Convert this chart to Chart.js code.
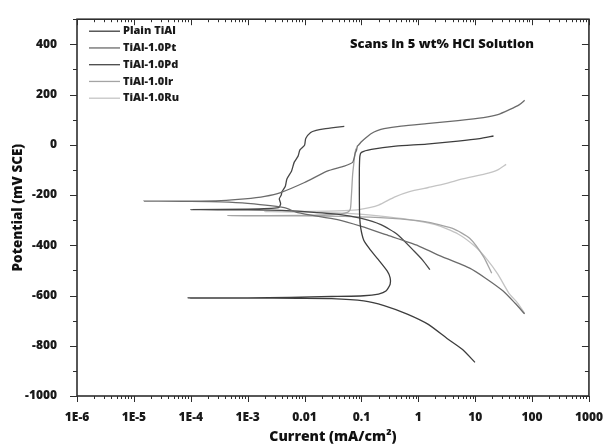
<!DOCTYPE html>
<html>
<head>
<meta charset="utf-8">
<script src="https://cdn.jsdelivr.net/npm/chart.js@4.4.0/dist/chart.umd.min.js"></script>
<style>
  html, body { margin: 0; padding: 0; background: #fff; }
</style>
</head>
<body>
<canvas id="chart1" width="609" height="448"></canvas>
<script>
var FONT = '"Open Sans", "DejaVu Sans", sans-serif';

var seriesNames = ['Plain TiAl', 'TiAl-1.0Pt', 'TiAl-1.0Pd', 'TiAl-1.0Ir', 'TiAl-1.0Ru'];
var seriesColors = ['#3d3d3d', '#6b6b6b', '#474747', '#a4a4a4', '#c4c4c4'];

var xTickLabels = ['1E-6', '1E-5', '1E-4', '1E-3', '0.01', '0.1', '1', '10', '100', '1000'];
var yTickValues = [-1000, -800, -600, -400, -200, 0, 200, 400];
var noteText = 'Scans in 5 wt% HCl Solution';

// current (mA/cm2) and potential (mV SCE), cathodic end -> Ecorr -> anodic end
var plainCurrent = [9.9, 6, 3.2, 1.5, 0.64, 0.25, 0.11, 0.03, 7.6e-3, 1e-3, 1e-4, 9e-5,
  1e-3, 5.5e-3, 0.03, 0.11, 0.2, 0.27, 0.32, 0.32, 0.285, 0.19, 0.14, 0.11, 0.097, 0.093,
  0.092, 0.092, 0.094, 0.1, 0.15, 0.4, 1.4, 5, 12, 21];
var plainPotential = [-866, -815, -771, -715, -674, -640, -621, -612, -611, -610, -610, -609,
  -609, -607, -604, -601, -594, -582, -555, -530, -503, -452, -415, -380, -330, -280,
  -200, -100, -45, -30, -18, -5, 3, 15, 25, 35];

var ptCurrent = [74, 50, 31, 15, 8, 2.1, 1.0, 0.27, 0.1, 0.038, 7.6e-3, 4.4e-3, 1e-3, 3.4e-4, 1e-4, 1.5e-5,
  1e-4, 3.4e-4, 8.9e-4, 2e-3, 3.8e-3, 0.01, 0.025, 0.05, 0.07, 0.075, 0.078, 0.082, 0.085, 0.09,
  0.1, 0.12, 0.15, 0.19, 0.25, 0.5, 1.4, 5, 14, 25, 40, 60, 74];
var ptPotential = [-673, -630, -582, -530, -491, -436, -402, -358, -325, -298, -270, -250, -233, -227, -225, -224,
  -224, -222, -215, -205, -190, -150, -105, -85, -70, -50, -32, -22, -5, 0,
  12, 28, 45, 56, 64, 74, 84, 96, 108, 120, 140, 160, 177];

var pdCurrent = [1.6, 1.2, 0.85, 0.43, 0.22, 0.1, 0.04, 0.01, 4e-3, 1e-3, 1e-4,
  1e-3, 3.5e-3, 3.8e-3, 3.6e-3, 3.9e-3, 4.0e-3, 4.6e-3, 4.9e-3, 5.9e-3, 6.6e-3, 7.7e-3, 8.3e-3,
  0.01, 0.0105, 0.0128, 0.016, 0.022, 0.035, 0.05];
var pdPotential = [-497, -460, -424, -357, -318, -293, -277, -266, -261, -259, -258,
  -256, -250, -235, -215, -200, -187, -165, -136, -105, -69, -45, -20,
  -2, 25, 49, 57, 63, 69, 73];

var irCurrent = [19.5, 14, 8, 4, 1.3, 0.3, 0.05, 0.01, 4.5e-4,
  0.01, 0.04, 0.058, 0.064, 0.066, 0.068, 0.07, 0.073, 0.076, 0.08];
var irPotential = [-511, -445, -372, -333, -306, -292, -285, -283, -282,
  -281, -276, -268, -255, -220, -170, -120, -80, -45, -15];

var ruCurrent = [74, 55, 39, 25, 16, 10, 5, 2, 0.7, 0.2, 0.05, 0.01, 2e-3,
  0.01, 0.05, 0.095, 0.2, 0.38, 0.7, 1.5, 3, 6, 15, 25, 35];
var ruPotential = [-670, -628, -590, -515, -455, -405, -355, -318, -298, -283, -272, -268, -266,
  -265, -262, -257, -240, -208, -186, -170, -155, -136, -116, -100, -78];

function toPoints(cur, pot) {
  return cur.map(function (c, i) { return {x: c, y: pot[i]}; });
}

var seriesData = [
  toPoints(plainCurrent, plainPotential),
  toPoints(ptCurrent, ptPotential),
  toPoints(pdCurrent, pdPotential),
  toPoints(irCurrent, irPotential),
  toPoints(ruCurrent, ruPotential)
];

var datasets = seriesNames.map(function (name, i) {
  return {
    label: name,
    data: seriesData[i],
    showLine: true,
    borderColor: seriesColors[i],
    backgroundColor: seriesColors[i],
    borderWidth: 1.3,
    pointRadius: 0,
    tension: 0.2,
    fill: false
  };
});

function seg(ctx, x1, y1, x2, y2) {
  ctx.beginPath();
  ctx.moveTo(x1, y1);
  ctx.lineTo(x2, y2);
  ctx.stroke();
}

// box round the plot plus the tick marks on all four sides
var frame = {
  id: 'frame',
  beforeDatasetsDraw: function (chart) {
    var ctx = chart.ctx;
    var a = chart.chartArea;
    var sx = chart.scales.x;
    var sy = chart.scales.y;

    ctx.save();
    ctx.strokeStyle = '#2e2e2e';
    ctx.lineWidth = 1;

    for (var p = -6; p <= 3; p++) {
      for (var m = 1; m <= 9; m++) {
        var v = m * Math.pow(10, p);
        if (v > 1000) break;
        var px = Math.round(sx.getPixelForValue(v)) + 0.5;
        var len = m === 1 ? 6 : 3;
        seg(ctx, px, a.top, px, a.top + len);
        seg(ctx, px, a.bottom, px, a.bottom + len);
      }
    }

    for (var t = -1000; t <= 500; t += 100) {
      var py = Math.round(sy.getPixelForValue(t)) + 0.5;
      var tl = t % 200 === 0 ? 7 : 4;
      seg(ctx, a.left - tl, py, a.left, py);
      seg(ctx, a.right - tl, py, a.right, py);
    }

    ctx.lineWidth = 1.6;
    ctx.strokeRect(a.left, a.top, a.right - a.left, a.bottom - a.top);
    ctx.restore();
  }
};

// legend in the top left corner and the note at top right
var notes = {
  id: 'notes',
  afterDraw: function (chart) {
    var ctx = chart.ctx;
    var a = chart.chartArea;
    ctx.save();
    ctx.font = '800 11px ' + FONT;
    ctx.textBaseline = 'middle';
    ctx.textAlign = 'left';
    chart.data.datasets.forEach(function (ds, i) {
      var ly = a.top + 12 + i * 16.75;
      ctx.strokeStyle = ds.borderColor;
      ctx.lineWidth = 1.3;
      seg(ctx, a.left + 12, ly, a.left + 43, ly);
      ctx.fillStyle = '#1a1a1a';
      ctx.fillText(ds.label, a.left + 46, ly);
    });

    ctx.font = '800 13px ' + FONT;
    ctx.textAlign = 'center';
    ctx.fillStyle = '#111';
    ctx.fillText(noteText, a.left + 365, a.top + 25);
    ctx.restore();
  }
};

new Chart(document.getElementById('chart1'), {
  type: 'scatter',
  data: {datasets: datasets},
  plugins: [frame, notes],
  options: {
    responsive: false,
    animation: false,
    devicePixelRatio: 1,
    layout: {padding: {left: 0, top: 15, right: 16, bottom: 0}},
    plugins: {
      legend: {display: false},
      tooltip: {enabled: false}
    },
    scales: {
      x: {
        type: 'logarithmic',
        min: 1e-6,
        max: 1000,
        grid: {display: false},
        border: {display: false},
        afterFit: function (scale) { scale.height = 52; },
        ticks: {
          autoSkip: false,
          maxRotation: 0,
          padding: 6,
          color: '#1a1a1a',
          font: {family: FONT, size: 12, weight: '800'},
          callback: function (value) {
            var l = Math.log10(value);
            if (Math.abs(l - Math.round(l)) > 1e-6) return '';
            return xTickLabels[Math.round(l) + 6];
          }
        },
        title: {
          display: true,
          text: 'Current (mA/cm²)',
          color: '#111',
          padding: 3,
          font: {family: FONT, size: 14, weight: '800'}
        }
      },
      y: {
        min: -1000,
        max: 500,
        grid: {display: false},
        border: {display: false},
        afterFit: function (scale) { scale.width = 77; },
        ticks: {
          stepSize: 100,
          autoSkip: false,
          padding: 12,
          color: '#1a1a1a',
          font: {family: FONT, size: 12, weight: '800'},
          callback: function (value) {
            return yTickValues.indexOf(value) >= 0 ? String(value) : '';
          }
        },
        title: {
          display: true,
          text: 'Potential (mV SCE)',
          color: '#111',
          padding: 10,
          font: {family: FONT, size: 13.5, weight: '800'}
        }
      }
    }
  }
});
</script>
</body>
</html>
